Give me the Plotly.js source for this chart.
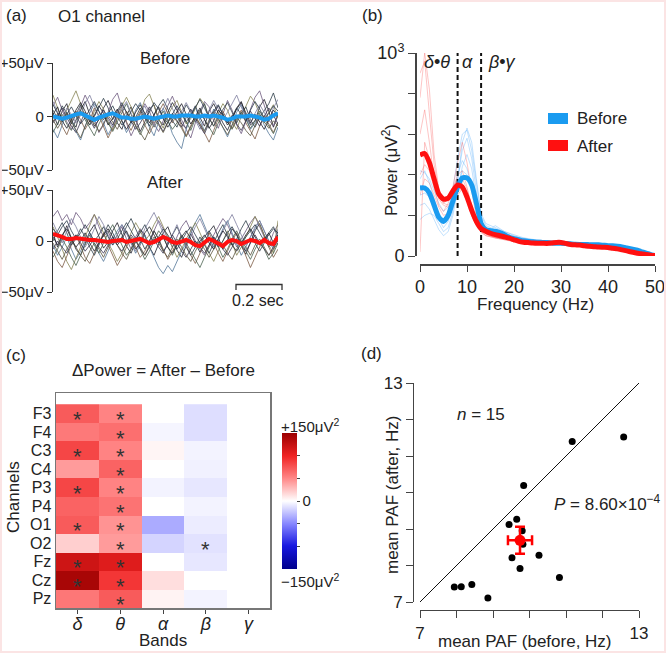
<!DOCTYPE html>
<html><head><meta charset="utf-8">
<script src="https://cdn.plot.ly/plotly-3.0.1.min.js"></script>
<style>html,body{margin:0;padding:0;background:#fff}#chart{width:666px;height:653px}</style>
</head><body><div id="chart"></div>
<script>
// ---------- Panel (a): O1 channel raw traces (µV), 50 samples over 1 s ----------
const nSamples = 50;
const beforeMean = [0,-1,-2,-1,1,2,3,1,-2,-3,-1,1,2,3,1,-1,-1,-2,-2,-1,0,-1,-2,-1,0,1,0,0,1,1,1,0,0,1,0,1,0,-1,-3,-2,0,0,0,1,0,-1,-3,-2,1,3];
const afterMean = [7,6,4,2,2,3,2,1,1,1,0,0,-1,0,1,1,-1,0,1,2,0,-2,-1,1,4,2,-1,-2,-1,1,-1,-4,-5,-2,2,0,-3,-5,-1,1,0,-3,-1,1,0,-2,1,-2,-3,4];
const beforeTraces = [
 [3,-8,5,12,-4,-10,6,14,2,-9,-3,8,15,4,-6,-12,1,9,-2,-14,-5,7,11,-3,-8,4,13,6,-7,-11,2,10,-1,-9,5,12,3,-6,-13,-2,8,14,1,-8,-4,9,16,5,-10,2],
 [10,18,6,-5,-12,-3,9,20,11,-2,-15,-8,4,16,22,7,-6,-18,-9,3,12,5,-7,-14,-4,10,19,8,-3,-12,-20,-6,5,14,9,-4,-11,2,15,6,-8,-16,-5,7,18,24,10,-3,-9,4],
 [-12,-20,-8,4,-2,-14,-22,-10,3,12,5,-6,-17,-9,2,-4,-15,-7,6,13,2,-10,-18,-6,8,-3,-16,-24,-30,-12,0,9,-4,-13,-5,7,-2,-11,-19,-8,4,11,-1,-12,-6,3,-8,-16,-22,-10],
 [20,8,-4,6,15,24,12,0,-8,5,14,7,-5,-13,-2,10,18,9,-4,3,16,21,10,-2,-11,1,9,15,4,-7,-2,8,17,11,-1,-9,3,12,6,-5,-12,0,10,19,13,2,-6,4,11,-2],
 [-5,3,-9,-17,-6,5,-3,-12,-4,8,1,-10,-20,-11,-1,6,-5,-13,-3,5,-8,-16,-7,4,12,3,-6,2,-9,-18,-9,1,-7,-15,-24,-13,-2,5,-4,-11,-2,6,-6,-14,-21,-9,1,-7,-15,-5],
 [6,-2,10,3,-7,2,11,-1,-8,0,9,17,8,-3,5,13,4,-6,-1,8,0,-9,2,10,16,7,-4,-10,1,11,4,-5,3,12,-2,-9,0,7,13,4,-6,3,9,-3,-10,-1,6,12,22,8],
 [-15,-6,2,-7,-13,-4,6,-3,-11,-18,-7,1,-6,-14,-5,4,12,2,-9,-17,-8,-1,-10,-3,5,-4,-12,-6,3,-5,-13,-2,6,-3,-10,-17,-6,2,-5,-12,-4,4,-3,-11,-4,5,-2,-9,-16,-6],
 [14,4,-3,8,2,-6,1,12,20,9,-1,6,-3,-10,0,7,14,3,-5,2,10,-1,-9,3,7,17,8,-2,5,13,5,-4,-12,-3,6,15,7,-3,4,12,20,9,-2,-7,3,11,4,-5,8,16],
 [2,9,-4,-11,-3,6,13,5,-5,1,10,3,-8,-2,7,-4,-12,-5,4,11,3,-6,1,9,-2,-10,-3,5,12,2,-7,0,8,-3,-11,-4,6,1,-8,-2,7,13,4,-6,2,-5,-12,-3,6,0],
 [-6,1,8,-1,-9,-15,-5,4,-3,-11,-2,6,-1,-8,3,11,4,-4,-12,-6,2,9,1,-7,-14,-5,3,-4,-10,-1,7,-2,-9,-16,-6,3,10,2,-6,1,-7,-13,-4,5,-2,-9,0,8,1,-7],
 [11,3,-5,2,9,1,-7,-1,7,14,5,-3,3,10,1,-8,-3,5,12,6,-2,4,13,7,-1,-6,2,10,3,-5,1,9,16,8,-1,5,11,2,-6,0,8,2,-4,6,14,7,-2,3,10,5],
 [-3,-11,-4,3,-5,-13,-20,-9,0,-6,-14,-7,1,-5,-12,-3,5,-2,-8,-15,-22,-12,-2,-8,-15,-6,2,-5,-11,-19,-10,-1,-7,-14,-3,4,-3,-10,-17,-8,-1,-6,-13,-18,-8,1,-5,-11,-4,-9]
];
const afterTraces = [
 [8,-6,4,15,3,-8,-14,-2,9,16,4,-7,-1,10,18,6,-5,-12,0,11,5,-6,-14,-3,8,14,2,-9,-16,-4,7,-2,-11,-3,9,15,3,-8,1,12,6,-5,-13,-2,10,17,5,-6,-1,9],
 [24,30,20,26,16,28,22,12,18,26,14,4,10,-2,6,14,2,-8,4,12,6,-4,10,20,12,2,-6,4,14,20,10,0,-8,-14,-4,6,14,22,16,6,-6,2,10,18,24,14,4,-4,8,16],
 [-4,-14,-6,4,-8,-18,-10,0,8,-2,-12,-20,-10,2,10,16,8,-2,-12,-4,6,-6,-16,-26,-32,-24,-30,-20,-10,-2,8,18,26,14,4,-6,2,12,20,8,-4,-14,-6,4,12,20,10,0,-8,2],
 [14,4,-8,-20,-28,-16,-6,4,16,26,18,8,-2,-10,-20,-12,-2,8,18,10,0,6,16,24,14,4,-6,-16,-8,2,10,18,8,-2,-12,-20,-10,0,10,-2,-14,-6,4,14,24,16,6,-4,-12,20],
 [-10,-20,-26,-14,-4,6,-6,-16,-22,-12,-2,8,-4,-14,-24,-16,-6,4,-6,-16,-10,0,10,2,-8,-18,-10,-2,6,-4,-14,-22,-12,-2,8,-2,-12,-20,-10,0,8,-4,-14,-26,-16,-6,4,-6,-16,-8],
 [0,10,18,8,-4,2,12,4,-6,-14,-4,6,16,8,-2,4,14,22,12,2,-8,0,10,2,-10,-4,6,14,4,-6,-14,-6,4,-4,-12,-2,8,16,6,-4,2,12,20,10,-2,-10,-2,8,14,4],
 [-16,-8,2,-6,-16,-24,-14,-4,6,-4,-12,-2,8,16,6,-4,-14,-8,2,-8,-18,-10,0,10,4,-6,-14,-4,6,-2,-10,-18,-26,-16,-6,4,-6,-16,-8,2,10,0,-10,-18,-8,0,-8,-18,-12,-2],
 [18,8,-2,10,22,14,4,-6,2,12,24,16,6,-4,6,16,8,-2,-10,0,12,20,28,18,8,-2,6,16,4,-6,4,14,22,12,2,-8,0,10,18,26,16,6,-4,4,14,20,10,0,-6,12],
 [4,-4,6,12,2,-6,0,8,-2,-10,-2,6,12,4,-4,2,10,0,-8,-2,8,14,6,-2,4,-6,-12,-4,4,10,2,-6,0,6,-2,-8,2,10,4,-4,-10,-2,6,12,4,-4,2,8,-2,6],
 [-8,0,-6,-12,-2,6,-2,-10,-4,2,-6,-12,-4,4,-4,-10,-2,6,0,-8,-14,-6,2,-6,-12,-2,6,-2,-10,-16,-8,0,-6,-12,-4,4,-2,-8,-14,-6,2,-4,-10,-2,6,-2,-8,-14,-6,0],
 [12,6,14,20,10,2,8,16,8,0,6,14,4,-4,2,10,18,10,2,8,16,6,-2,4,12,6,-2,-8,0,8,14,6,-2,4,10,2,-6,0,8,14,6,-2,4,10,16,8,0,6,12,8],
 [-2,-10,-18,-8,0,-6,-14,-20,-10,-2,-8,-16,-6,2,-4,-12,-18,-8,0,-6,-14,-4,4,-2,-10,-16,-6,2,-6,-14,-20,-10,-2,-8,-16,-8,0,-4,-12,-18,-8,0,-6,-14,-4,2,-6,-14,-8,-2]
];
const traceColors = ['#1f1f2a','#6e5a80','#55789a','#878455','#7d5c45','#2f3f4a','#4b6350','#7f7fa0','#20202a','#3a3550','#2a3a4a','#5a5640'];

// ---------- Panel (b): power spectra ----------
const freqMean = [0,1,2,3,4,5,6,7,8,9,10,11,12,13,14,15,16,17,18,19,20,21,22,23,24,25,26,27,28,29,30,31,32,33,34,35,36,37,38,39,40,41,42,43,44,45,46,47,48,49,50];
const powerBeforeMean = [335,335,310,250,190,170,200,270,340,385,385,350,260,160,130,125,122,115,105,92,85,80,75,72,70,68,67,66,64,63,63,62,60,58,57,57,56,55,55,53,51,50,48,45,40,35,30,22,15,8,2];
const powerAfterMean = [497,505,460,380,305,280,285,320,350,340,290,225,170,135,122,112,105,100,94,88,80,72,68,66,64,63,63,62,64,67,67,62,57,55,54,50,48,46,44,43,42,38,35,30,25,20,15,11,7,4,2];
const freqSubj = [0,1,2,3,4,5,6,7,8,9,10,11,12,13,14,15,16,18,20,22,24,26,28,30,32,34,36,38,40,42,44,46,48,50];
const powerBeforeSubj = [
 [380,420,360,280,200,160,220,330,480,600,620,520,360,200,150,140,130,110,90,80,75,70,65,62,60,58,56,54,50,45,38,28,15,3],
 [300,310,290,240,180,140,170,250,380,520,580,480,320,170,120,110,120,100,80,75,70,72,65,60,55,60,55,50,48,42,35,25,12,2],
 [250,260,230,180,130,100,120,200,320,440,500,430,280,140,110,130,150,120,100,85,80,70,68,72,66,60,58,62,55,48,40,30,16,3],
 [420,410,380,320,260,220,240,300,400,470,430,340,230,150,130,120,110,100,95,88,80,75,72,70,64,62,60,57,54,48,40,30,18,4],
 [180,200,210,200,160,120,140,220,360,560,630,560,380,210,160,150,140,120,105,90,82,76,70,66,62,58,55,52,48,44,36,26,14,2],
 [350,330,300,260,210,180,190,260,340,420,400,340,260,170,140,130,115,100,88,78,70,68,64,60,58,56,52,50,47,42,35,26,14,2]
];
const powerAfterSubj = [
 [900,960,700,450,320,280,300,340,380,360,280,200,150,120,110,100,95,85,75,70,65,62,60,64,58,52,48,45,42,36,28,20,10,2],
 [600,720,560,380,290,260,280,330,400,420,340,240,160,120,105,98,92,84,78,70,66,63,62,66,56,50,47,44,40,35,27,18,9,2],
 [400,450,420,330,250,220,260,340,460,560,460,320,190,130,110,100,90,80,70,64,60,58,57,60,54,48,45,42,39,33,25,16,8,1],
 [780,1000,820,500,330,260,250,280,320,330,270,200,150,115,100,95,90,85,80,72,66,62,60,62,56,50,46,44,40,34,26,18,8,2],
 [300,380,360,300,240,200,210,260,340,380,330,250,170,125,110,100,95,88,80,72,68,65,62,66,58,52,48,44,41,35,27,18,9,2],
 [20,560,480,360,280,250,240,270,300,330,300,220,160,120,100,94,88,80,74,66,62,58,56,58,52,46,43,40,37,31,24,16,8,2]
];
const bandEdges = [8, 13];
const bandNames = ['<i>δ</i>•<i>θ</i>', '<i>α</i>', '<i>β</i>•<i>γ</i>'];

// ---------- Panel (c): ΔPower heat map (µV²) ----------
const channels = ['F3','F4','C3','C4','P3','P4','O1','O2','Fz','Cz','Pz'];
const bands = ['δ','θ','α','β','γ'];
const dDelta = [72,57,82,42,82,68,72,20,120,142,58];
const dTheta = [52,62,52,68,52,60,45,42,110,90,72];
const dAlpha = [0,-4,4,0,-5,0,-35,-18,0,14,5];
const dBeta  = [-14,-14,-5,-6,-10,-5,-8,-12,-10,0,-5];
const dGamma = [0,0,0,0,0,0,0,0,0,0,0];
const sigDelta = ['F3','C3','P3','O1','Fz','Cz'];
const sigTheta = ['F3','F4','C3','C4','P3','P4','O1','O2','Fz','Cz','Pz'];
const sigBeta  = ['O2'];

// ---------- Panel (d): peak alpha frequency ----------
const pafBefore = [11.17,12.58,9.84,9.65,9.44,9.80,9.82,9.52,10.26,9.74,10.82,7.94,8.13,8.42,8.86];
const pafAfter  = [11.40,11.52,10.19,9.27,9.12,8.95,8.58,8.21,8.28,7.92,7.67,7.41,7.42,7.48,7.11];
const pafMeanBefore = [9.74], pafMeanAfter = [8.69];
const pafSemBefore = [0.33], pafSemAfter = [0.37];
const identityLine = [7, 13];

// ---------- helpers ----------
const W = 666, H = 653;
const X = px => px / W;
const Y = py => 1 - py / H;
const FONT = 'Liberation Sans, Arial, sans-serif';
const times = Array.from({length: nSamples}, (_, i) => i / (nSamples - 1));

const data = [];
beforeTraces.forEach((v, k) => data.push({x: times, y: v, xaxis: 'x', yaxis: 'y', type: 'scatter', mode: 'lines',
  line: {color: traceColors[k], width: 0.9}, opacity: 0.9, hoverinfo: 'skip', showlegend: false}));
data.push({x: times, y: beforeMean, xaxis: 'x', yaxis: 'y', type: 'scatter', mode: 'lines',
  line: {color: '#1a9bf0', width: 4}, showlegend: false});
afterTraces.forEach((v, k) => data.push({x: times, y: v, xaxis: 'x2', yaxis: 'y2', type: 'scatter', mode: 'lines',
  line: {color: traceColors[k], width: 0.9}, opacity: 0.9, hoverinfo: 'skip', showlegend: false}));
data.push({x: times, y: afterMean, xaxis: 'x2', yaxis: 'y2', type: 'scatter', mode: 'lines',
  line: {color: '#ff1010', width: 4}, showlegend: false});

powerBeforeSubj.forEach(v => data.push({x: freqSubj, y: v, xaxis: 'x3', yaxis: 'y3', type: 'scatter', mode: 'lines',
  line: {color: 'rgba(80,170,250,0.35)', width: 1}, showlegend: false, hoverinfo: 'skip'}));
powerAfterSubj.forEach(v => data.push({x: freqSubj, y: v, xaxis: 'x3', yaxis: 'y3', type: 'scatter', mode: 'lines',
  line: {color: 'rgba(250,80,80,0.33)', width: 1}, showlegend: false, hoverinfo: 'skip'}));
bandEdges.forEach(f => data.push({x: [f, f], y: [0, 1000], xaxis: 'x3', yaxis: 'y3', type: 'scatter', mode: 'lines',
  line: {color: '#111', width: 2, dash: '5px,3px'}, showlegend: false, hoverinfo: 'skip'}));
data.push({x: freqMean, y: powerBeforeMean, xaxis: 'x3', yaxis: 'y3', type: 'scatter', mode: 'lines', name: 'Before',
  line: {color: '#1a9bf0', width: 5, shape: 'spline', smoothing: 0.6}, showlegend: false});
data.push({x: freqMean, y: powerAfterMean, xaxis: 'x3', yaxis: 'y3', type: 'scatter', mode: 'lines', name: 'After',
  line: {color: '#ff1010', width: 5, shape: 'spline', smoothing: 0.6}, showlegend: false});

const z = channels.map((c, i) => [dDelta[i], dTheta[i], dAlpha[i], dBeta[i], dGamma[i]]);
data.push({type: 'heatmap', x: bands, y: channels, z: z, xaxis: 'x4', yaxis: 'y4', zmin: -150, zmax: 150,
  colorscale: [[0,'#00008b'],[0.17,'#1818e0'],[0.33,'#8585ff'],[0.5,'#ffffff'],[0.67,'#ff8585'],[0.83,'#f02424'],[1,'#9b0000']],
  colorbar: {x: X(282), xanchor: 'left', y: Y(501), yanchor: 'middle', len: 136, lenmode: 'pixels',
    thickness: 15, thicknessmode: 'pixels', xpad: 0, ypad: 0, outlinewidth: 0,
    tickvals: [-100,-50,0,50,100], ticktext: ['','','0','',''], ticks: 'outside', ticklen: 3, tickcolor: '#444',
    tickfont: {family: FONT, size: 15, color: '#222'}}, showscale: true, hoverongaps: false});

data.push({x: identityLine, y: identityLine, xaxis: 'x5', yaxis: 'y5', type: 'scatter', mode: 'lines',
  line: {color: '#111', width: 1}, showlegend: false, hoverinfo: 'skip'});
data.push({x: pafBefore, y: pafAfter, xaxis: 'x5', yaxis: 'y5', type: 'scatter', mode: 'markers',
  marker: {color: '#000', size: 7}, showlegend: false, cliponaxis: false});
data.push({x: pafMeanBefore, y: pafMeanAfter, xaxis: 'x5', yaxis: 'y5', type: 'scatter', mode: 'markers',
  marker: {color: '#ff0000', size: 11},
  error_x: {type: 'data', array: pafSemBefore, color: '#ff0000', thickness: 2.5, width: 5},
  error_y: {type: 'data', array: pafSemAfter, color: '#ff0000', thickness: 2.5, width: 5}, showlegend: false});

const tf = (s) => ({family: FONT, size: s, color: '#222'});
const ann = [];
const A = (text, px, py, o = {}) => ann.push(Object.assign({text, x: X(px), y: Y(py), xref: 'paper', yref: 'paper',
  showarrow: false, xanchor: 'center', yanchor: 'middle', font: tf(17)}, o));

A('(a)', 4, 15, {xanchor: 'left'});
A('O1 channel', 56, 16, {xanchor: 'left'});
A('Before', 165, 58);
A('After', 165, 182);
A('0.2 sec', 258, 300, {font: tf(16)});
A('(b)', 360, 15, {xanchor: 'left'});
A('Power (μV<sup>2</sup>)', 390, 170, {textangle: -90});
A('Frequency (Hz)', 535, 304);
A(bandNames[0], 437, 62, {font: tf(18)});
A(bandNames[1], 467, 62, {font: tf(18)});
A(bandNames[2], 502, 62, {font: tf(18)});
A('Before', 575, 118, {xanchor: 'left'});
A('After', 575, 146, {xanchor: 'left'});
A('(c)', 4, 355, {xanchor: 'left'});
A('ΔPower = After – Before', 163, 370);
A('Channels', 13, 497, {textangle: -90});
A('Bands', 163, 640);
A('+150μV<sup>2</sup>', 279, 425, {xanchor: 'left', font: tf(15)});
A('−150μV<sup>2</sup>', 279, 580, {xanchor: 'left', font: tf(15)});
A('(d)', 359, 353, {xanchor: 'left'});
A('mean PAF (after, Hz)', 392, 495, {textangle: -90});
A('mean PAF (before, Hz)', 525, 641);
A('<i>n</i> = 15', 455, 415, {xanchor: 'left'});
A('<i>P</i> = 8.60×10<sup>−4</sup>', 552, 503, {xanchor: 'left'});

// significance stars on the heat map (cells named by band and channel)
const star = (band, ch) => ann.push({text: '*', x: band, y: ch, xref: 'x4', yref: 'y4', showarrow: false,
  xanchor: 'center', yanchor: 'middle', font: {family: FONT, size: 22, color: '#333'}, yshift: -6});
sigDelta.forEach(c => star('δ', c));
sigTheta.forEach(c => star('θ', c));
sigBeta.forEach(c => star('β', c));

const shapes = [
  {type: 'rect', xref: 'paper', yref: 'paper', x0: 0, x1: 1, y0: 0, y1: 1, line: {color: '#fbe4e4', width: 4}},
  {type: 'path', xref: 'paper', yref: 'paper', path: `M ${X(236)} ${Y(290)} L ${X(236)} ${Y(284.5)} L ${X(282)} ${Y(284.5)} L ${X(282)} ${Y(290)}`,
   line: {color: '#333', width: 1.3}},
  {type: 'rect', xref: 'paper', yref: 'paper', x0: X(548), x1: X(568), y0: Y(124), y1: Y(113), fillcolor: '#1a9bf0', line: {width: 0}},
  {type: 'rect', xref: 'paper', yref: 'paper', x0: X(548), x1: X(568), y0: Y(151), y1: Y(140), fillcolor: '#ff1010', line: {width: 0}}
];

const aY = (dom, extra) => Object.assign({domain: dom, range: [-50, 50], showgrid: false, zeroline: false,
  showline: true, linecolor: '#333', linewidth: 1.2, ticks: 'outside', ticklen: 5, tickcolor: '#333',
  tickvals: [-50, 0, 50], ticktext: ['−50μV', '0', '+50μV'], tickfont: tf(15), fixedrange: true}, extra);

const layout = {
  width: W, height: H, margin: {l: 0, r: 0, t: 0, b: 0}, paper_bgcolor: '#fff', plot_bgcolor: 'rgba(0,0,0,0)',
  font: {family: FONT, color: '#222'}, showlegend: false,
  xaxis: {domain: [X(53), X(278)], range: [0, 1], visible: false},
  yaxis: aY([Y(170), Y(63)], {anchor: 'x'}),
  xaxis2: {domain: [X(53), X(278)], range: [0, 1], visible: false, anchor: 'y2'},
  yaxis2: aY([Y(292), Y(190)], {anchor: 'x2'}),
  xaxis3: {domain: [X(420), X(655)], range: [0, 50], anchor: 'free', position: Y(264), showgrid: false, zeroline: false,
    showline: true, linecolor: '#444', linewidth: 1.5, ticks: 'outside', ticklen: 6, tickcolor: '#444',
    tickvals: [0,10,20,30,40,50], tickfont: tf(18)},
  yaxis3: {domain: [Y(256), Y(53)], range: [0, 1000], anchor: 'free', position: X(415), showgrid: false, zeroline: false,
    showline: true, linecolor: '#444', linewidth: 1.5, ticks: 'outside', ticklen: 7, tickcolor: '#444',
    tickvals: [0,200,400,600,800,1000], ticktext: ['0','','','','','10<sup>3</sup>'], tickfont: tf(18)},
  xaxis4: {domain: [X(56), X(270)], anchor: 'y4', type: 'category', showgrid: false, zeroline: false,
    showline: true, mirror: true, linecolor: '#777', linewidth: 1.5, ticks: 'outside', ticklen: 4, tickcolor: '#444',
    tickmode: 'array', tickvals: bands, ticktext: bands.map(b => '<i>' + b + '</i>'), tickfont: tf(18), ticklabelstandoff: -5},
  yaxis4: {domain: [Y(608), Y(393)], anchor: 'x4', type: 'category', autorange: 'reversed', showgrid: false, zeroline: false,
    showline: true, mirror: true, linecolor: '#777', linewidth: 1.5, ticks: '', tickfont: tf(16),
    tickmode: 'array', tickvals: channels, ticktext: channels},
  xaxis5: {domain: [X(420), X(639)], range: [7, 13], anchor: 'free', position: Y(610), showgrid: false, zeroline: false,
    showline: true, linecolor: '#444', linewidth: 1.3, ticks: 'outside', ticklen: 7, tickcolor: '#444',
    tickvals: [7,8,9,10,11,12,13], ticktext: ['7','','','','','','13'], tickfont: tf(17)},
  yaxis5: {domain: [Y(602), Y(383)], range: [7, 13], anchor: 'free', position: X(413), showgrid: false, zeroline: false,
    showline: true, linecolor: '#444', linewidth: 1.3, ticks: 'outside', ticklen: 7, tickcolor: '#444',
    tickvals: [7,8,9,10,11,12,13], ticktext: ['7','','','','','','13'], tickfont: tf(17)},
  annotations: ann, shapes: shapes
};
Plotly.newPlot('chart', data, layout, {displayModeBar: false, staticPlot: true});
</script></body></html>
